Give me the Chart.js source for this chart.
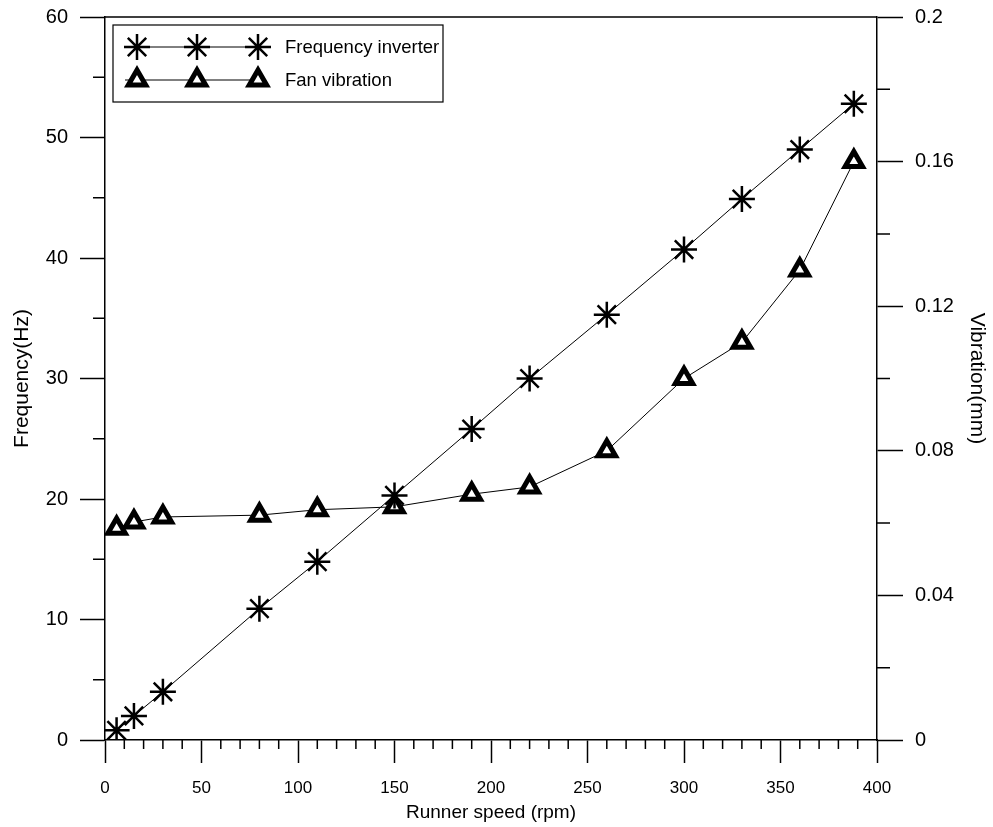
<!DOCTYPE html>
<html>
<head>
<meta charset="utf-8">
<script src="https://cdn.jsdelivr.net/npm/chart.js@4"></script>
<style>
  body { margin: 0; background: #fff; }
  #wrap { width: 993px; height: 827px; }
</style>
</head>
<body>
<div id="wrap"><canvas id="speedChart"></canvas></div>
<script>
// Data
const runnerSpeed = [6, 15, 30, 80, 110, 150, 190, 220, 260, 300, 330, 360, 388];
const frequencyHz = [0.8, 2, 4, 10.9, 14.8, 20.3, 25.8, 30, 35.3, 40.7, 44.9, 49, 52.8];
const vibrationMm = [0.0586, 0.0603, 0.0617, 0.0622, 0.0637, 0.0645, 0.068, 0.07, 0.08, 0.1, 0.11, 0.13, 0.16];

const seriesNames = ["Frequency inverter", "Fan vibration"];

// points for the scatter chart
const freqPoints = runnerSpeed.map((x, i) => ({ x: x, y: frequencyHz[i] }));
const vibPoints = runnerSpeed.map((x, i) => ({ x: x, y: vibrationMm[i] }));

const font = "'Liberation Sans', Arial, sans-serif";

// small ticks + top frame + legend box
const extras = {
    id: "extras",
    afterDraw(chart) {
        const ctx = chart.ctx;
        const a = chart.chartArea;
        const xs = chart.scales.x, ys = chart.scales.y, y2 = chart.scales.y2;
        ctx.save();
        ctx.strokeStyle = "#000";
        ctx.lineWidth = 1.5;
        ctx.beginPath();
        ctx.moveTo(a.left, a.top);
        ctx.lineTo(a.right, a.top);
        for (let v = 10; v < 400; v += 10) {
            if (v % 50 === 0) continue;
            const px = xs.getPixelForValue(v);
            ctx.moveTo(px, a.bottom);
            ctx.lineTo(px, a.bottom + 9);
        }
        for (let v = 5; v < 60; v += 10) {
            const py = ys.getPixelForValue(v);
            ctx.moveTo(a.left - 12, py);
            ctx.lineTo(a.left, py);
        }
        for (let v = 0.02; v < 0.2; v += 0.04) {
            const py = y2.getPixelForValue(v);
            ctx.moveTo(a.right, py);
            ctx.lineTo(a.right + 13, py);
        }
        ctx.stroke();

        // legend
        const bx = 113, by = 25, bw = 330, bh = 77;
        ctx.lineWidth = 1.2;
        ctx.strokeRect(bx, by, bw, bh);
        const rows = [
            { y: 47, style: "star", radius: 13, bw: 2.5, fill: "#000" },
            { y: 80, style: "triangle", radius: 10, bw: 5, fill: "#fff" }
        ];
        rows.forEach((r, i) => {
            ctx.lineWidth = 1;
            ctx.beginPath();
            ctx.moveTo(125, r.y);
            ctx.lineTo(258, r.y);
            ctx.stroke();
            [137, 197, 258].forEach(mx => {
                ctx.lineWidth = r.bw;
                ctx.fillStyle = r.fill;
                Chart.helpers.drawPoint(ctx, { pointStyle: r.style, radius: r.radius, rotation: 0, borderWidth: r.bw }, mx, r.y);
            });
            ctx.fillStyle = "#000";
            ctx.font = "18.5px " + font;
            ctx.textBaseline = "middle";
            ctx.fillText(seriesNames[i], 285, r.y + 1);
        });
        ctx.restore();
    }
};

new Chart(document.getElementById("speedChart"), {
    type: "scatter",
    data: {
        datasets: [{
            label: seriesNames[0],
            data: freqPoints,
            yAxisID: "y",
            showLine: true,
            borderColor: "#000",
            borderWidth: 1,
            pointStyle: "star",
            pointRadius: 13,
            pointBorderWidth: 2.5,
            pointBorderColor: "#000",
            pointBackgroundColor: "#000"
        }, {
            label: seriesNames[1],
            data: vibPoints,
            yAxisID: "y2",
            showLine: true,
            borderColor: "#000",
            borderWidth: 1,
            pointStyle: "triangle",
            pointRadius: 10,
            pointBorderWidth: 5,
            pointBorderColor: "#000",
            pointBackgroundColor: "#fff"
        }]
    },
    options: {
        responsive: true,
        maintainAspectRatio: false,
        animation: false,
        layout: { padding: { top: 17, left: 0, right: 0, bottom: 0 } },
        plugins: {
            legend: { display: false },
            tooltip: { enabled: false }
        },
        scales: {
            x: {
                type: "linear",
                min: 0, max: 400,
                ticks: { stepSize: 50, color: "#000", padding: 15, font: { size: 17, family: font } },
                grid: { drawOnChartArea: false, tickLength: 23, color: "#000", tickWidth: 1.5 },
                border: { color: "#000", width: 1.5 },
                title: { display: true, text: "Runner speed (rpm)", color: "#000", padding: 3, font: { size: 19, family: font } },
                afterFit(scale) { scale.height = 87; }
            },
            y: {
                position: "left",
                min: 0, max: 60,
                ticks: { stepSize: 10, color: "#000", padding: 12, font: { size: 20, family: font } },
                grid: { drawOnChartArea: false, tickLength: 25, color: "#000", tickWidth: 1.5 },
                border: { color: "#000", width: 1.5 },
                title: { display: true, text: "Frequency(Hz)", color: "#000", padding: 10, font: { size: 21, family: font } },
                afterFit(scale) { scale.width = 105; scale.paddingTop = 0; scale.paddingBottom = 0; }
            },
            y2: {
                position: "right",
                min: 0, max: 0.2,
                ticks: {
                    stepSize: 0.04, color: "#000", padding: 12, font: { size: 20, family: font },
                    callback: v => v === 0 ? "0" : (+v.toFixed(2)).toString()
                },
                grid: { drawOnChartArea: false, tickLength: 26, color: "#000", tickWidth: 1.5 },
                border: { color: "#000", width: 1.5 },
                title: { display: true, text: "Vibration(mm)", color: "#000", padding: 4, font: { size: 21, family: font } },
                afterFit(scale) { scale.width = 116; scale.paddingTop = 0; scale.paddingBottom = 0; }
            }
        }
    },
    plugins: [extras]
});
</script>
</body>
</html>
